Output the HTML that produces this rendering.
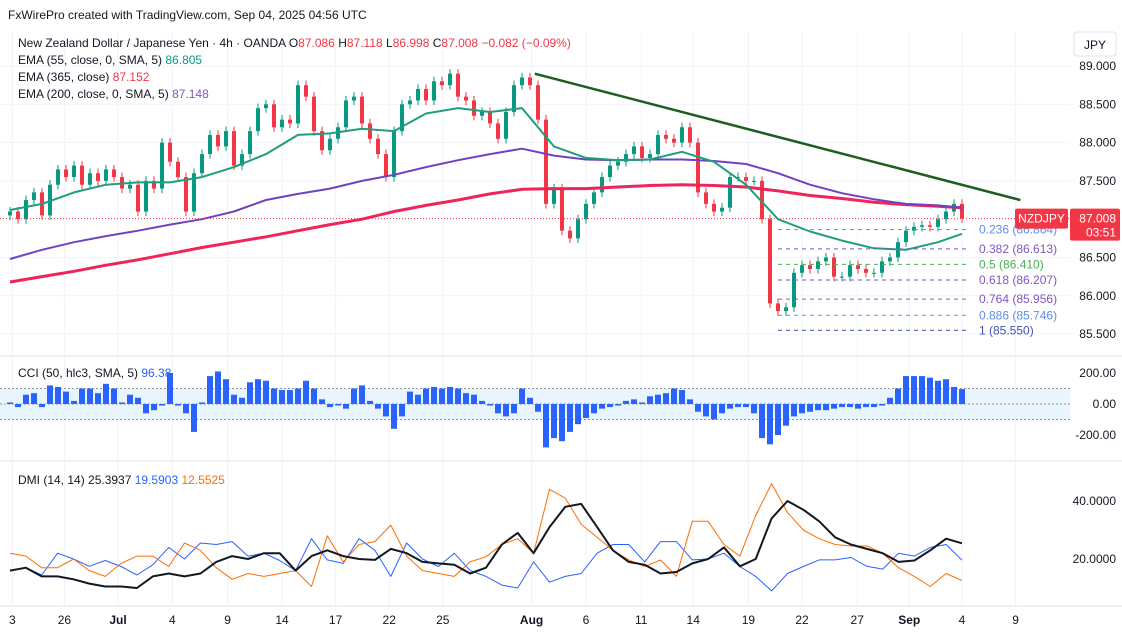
<!DOCTYPE html>
<html><head><meta charset="utf-8"><style>
html,body{margin:0;padding:0;background:#fff;}
svg{display:block;font-family:"Liberation Sans",sans-serif;}
</style></head><body>
<svg id="chart" width="1122" height="633" viewBox="0 0 1122 633">
<rect x="0" y="0" width="1122" height="633" fill="#ffffff"/>
<g id="grid"></g>
<g id="main"></g>
<g id="cci"></g>
<g id="dmi"></g>
<g id="axes"></g>
<text x="8" y="19" font-size="12" fill="#131722">FxWirePro created with TradingView.com, Sep 04, 2025 04:56 UTC</text>
<g font-size="12">
<text x="18" y="47" fill="#131722">New Zealand Dollar / Japanese Yen · 4h · OANDA  O<tspan fill="#f23645">87.086</tspan> H<tspan fill="#f23645">87.118</tspan> L<tspan fill="#f23645">86.998</tspan> C<tspan fill="#f23645">87.008</tspan> <tspan fill="#f23645">−0.082 (−0.09%)</tspan></text>
<text x="18" y="64" fill="#131722">EMA (55, close, 0, SMA, 5) <tspan fill="#089981">86.805</tspan></text>
<text x="18" y="81" fill="#131722">EMA (365, close) <tspan fill="#f23645">87.152</tspan></text>
<text x="18" y="98" fill="#131722">EMA (200, close, 0, SMA, 5) <tspan fill="#7e57c2">87.148</tspan></text>
<text x="18" y="377" fill="#131722">CCI (50, hlc3, SMA, 5) <tspan fill="#2962ff">96.38</tspan></text>
<text x="18" y="484" fill="#131722">DMI (14, 14) 25.3937 <tspan fill="#2962ff">19.5903</tspan> <tspan fill="#ff6d00">12.5525</tspan></text>
</g>
<g><rect x="1074" y="32" width="42" height="24" rx="3" fill="#fff" stroke="#e0e3eb"/><text x="1095" y="49" font-size="12" text-anchor="middle" fill="#131722">JPY</text></g>
</svg>
<script>
// ---- data ----
const closes=[87.10,87.00,87.25,87.35,87.05,87.45,87.65,87.55,87.70,87.45,87.60,87.50,87.65,87.55,87.40,87.45,87.10,87.50,87.40,88.00,87.75,87.55,87.10,87.60,87.85,88.10,87.95,88.15,87.70,87.85,88.15,88.45,88.50,88.20,88.30,88.25,88.75,88.60,88.15,87.90,88.05,88.20,88.55,88.60,88.25,88.05,87.85,87.55,88.15,88.50,88.55,88.70,88.55,88.80,88.75,88.90,88.60,88.55,88.35,88.40,88.25,88.05,88.40,88.75,88.85,88.75,88.30,87.20,87.40,86.85,86.75,87.00,87.20,87.35,87.55,87.70,87.75,87.85,87.95,87.80,87.85,88.10,88.05,88.00,88.20,88.00,87.35,87.20,87.10,87.15,87.55,87.55,87.50,87.50,87.00,85.90,85.80,85.85,86.30,86.40,86.35,86.45,86.50,86.25,86.25,86.40,86.35,86.30,86.30,86.45,86.50,86.70,86.85,86.90,86.92,86.90,87.00,87.10,87.20,87.01];
const firstOpen=87.05;
const ema55=[87.12,87.2,87.35,87.45,87.48,87.48,87.55,87.68,87.85,88.1,88.12,88.18,88.15,88.38,88.45,88.4,88.45,87.95,87.8,87.77,87.78,87.88,87.75,87.45,87.0,86.84,86.72,86.62,86.6,86.7,86.81];
const ema200=[86.48,86.6,86.7,86.78,86.85,86.93,87.0,87.1,87.25,87.33,87.4,87.5,87.58,87.68,87.77,87.85,87.92,87.83,87.78,87.77,87.78,87.78,87.76,87.72,87.6,87.45,87.34,87.26,87.2,87.18,87.15];
const ema365=[86.18,86.25,86.32,86.4,86.47,86.55,86.63,86.7,86.77,86.85,86.93,87.0,87.1,87.18,87.25,87.33,87.39,87.4,87.4,87.42,87.44,87.45,87.44,87.42,87.37,87.31,87.27,87.22,87.19,87.17,87.15];
const cciVals=[10,-20,60,70,-20,120,110,80,20,100,100,70,130,100,10,60,40,-60,-40,-10,200,-10,-60,-180,10,180,210,160,60,40,140,160,150,100,90,90,100,150,100,30,-20,-10,-30,100,120,20,-30,-80,-160,-80,80,60,100,110,100,110,100,70,60,20,-10,-60,-80,-60,100,40,-50,-280,-220,-240,-180,-130,-90,-60,-30,-20,-10,20,30,10,50,60,70,100,90,30,-50,-80,-100,-60,-30,-20,-20,-60,-220,-260,-200,-140,-80,-60,-50,-40,-40,-30,-20,-20,-30,-20,-20,-10,40,100,180,180,180,170,150,160,110,96];
const adx=[16,17,14,14,13,11.5,10.5,10.5,10,14,15,14,15,19,21,20,22,22,16,21,23,21,20,19.7,23.5,22,19,18.5,18,15,17,25,29,22,31,38,39,31,23,19,18,15,15.5,18.5,20,24,17.5,20,34,40,37,33,27.5,25,23.5,22,19,19.5,23,27,25.4];
const plusDI=[16,17,14.5,22,20,17.5,19.5,17.4,14.5,18,24,20,25.5,25,26,21,22,19.5,16,27,19.7,18.5,27,23,14,25.5,20,17.4,22,16,14,11,10,19,12,14,15,22,25,25,19,26,26,19.7,20,22,17.4,14,9,15,17.4,19.7,19.7,20.5,17.5,16.5,22,21,24,25,19.6];
const minusDI=[22,21,17,17,20,16,14,18.5,21,21,17.4,25.5,23,17,13,15,14,15,16,10.5,28,19,25,26,31.7,21,16,15,14,19,20.8,25,27,22,44,41,32,27.5,23,19.7,17.4,19.7,14,33,33,25,21,35,46,36,30,27,25,24.5,24.5,22,17,14,10.5,15,12.6];
const priceTicks=[89.0,88.5,88.0,87.5,86.5,86.0,85.5];
const cciTicks=[200,0,-200];
const dmiTicks=[40,20];
const dateLabels=["3","26","Jul","4","9","14","17","22","25","Aug","6","11","14","19","22","27","Sep","4","9"];
const dateBars=[0.3,6.8,13.5,20.3,27.2,34,40.7,47.4,54.1,65.2,72,78.9,85.4,92.3,99,105.9,112.4,119,125.7];
const fibLevels=[0.236,0.382,0.5,0.618,0.764,0.886,1];
const fibPrices=[86.864,86.613,86.410,86.207,85.956,85.746,85.550];
const fibColors=["#5b8def","#7e57c2","#4caf50","#7e57c2","#7e57c2","#5b8def","#3f51b5"];
const lastPrice=87.008;
const trendStart=[65.6,88.9], trendEnd=[126.3,87.25];
// ---- scales ----
const NS='http://www.w3.org/2000/svg';
const N=closes.length;
const xB=i=>10+i*8;
const yP=p=>66+(89-p)*76.6;
const yC=v=>404-v*0.155;
const yD=v=>559-(v-20)*2.9;
function mk(tag,attrs,parent){const e=document.createElementNS(NS,tag);for(const k in attrs)e.setAttribute(k,attrs[k]);parent.appendChild(e);return e;}
const grid=document.getElementById('grid'),main=document.getElementById('main'),cci=document.getElementById('cci'),dmi=document.getElementById('dmi'),axes=document.getElementById('axes');
dateBars.forEach((b,i)=>{const g=mk('line',{x1:xB(b),x2:xB(b),y1:30,y2:605,stroke:'#f0f3fa','stroke-width':1},grid);

});
priceTicks.forEach(p=>{const g=mk('line',{x1:0,x2:1070,y1:yP(p),y2:yP(p),stroke:'#f0f3fa'},grid);

});
[356,461,606].forEach(y=>{const s=mk('line',{x1:0,x2:1122,y1:y,y2:y,stroke:'#e0e3eb'},grid);

});
for(let i=0;i<N;i++){
 const o=i?closes[i-1]:firstOpen,c=closes[i];const up=c>=o;const col=up?'#089981':'#f23645';
 const hi=Math.max(o,c)+0.06,lo=Math.min(o,c)-0.06;const x=xB(i);
 const w=mk('line',{x1:x,x2:x,y1:yP(hi),y2:yP(lo),stroke:col,'stroke-width':1},main);
 
 
 const b=mk('rect',{x:x-2,y:yP(Math.max(o,c)),width:4,height:Math.max(1,Math.abs(yP(o)-yP(c))),fill:col},main);
 
 
}
function line(arr,step,yf,attrs,parent,name){const pts=arr.map((v,k)=>{const b=Math.min(k*step,N-1);return xB(b).toFixed(1)+','+yf(v).toFixed(1)}).join(' ');
 const l=mk('polyline',Object.assign({points:pts,fill:'none','stroke-linejoin':'round'},attrs),parent);
 
 }
line(ema365,4,yP,{stroke:'#f0245a','stroke-width':3},main,'ema365-line');
line(ema200,4,yP,{stroke:'#6f42c1','stroke-width':2},main,'ema200-line');
line(ema55,4,yP,{stroke:'#1f9e7c','stroke-width':2},main,'ema55-line');
const tl=mk('line',{x1:xB(trendStart[0]),y1:yP(trendStart[1]),x2:xB(trendEnd[0]),y2:yP(trendEnd[1]),stroke:'#1b5e20','stroke-width':2.5},main);


fibLevels.forEach((lv,i)=>{const y=yP(fibPrices[i]);
 const l=mk('line',{x1:xB(96),x2:xB(119.5),y1:y,y2:y,stroke:fibColors[i],'stroke-dasharray':'4 4'},main);
 
 
 const t=mk('text',{x:979,y:y+4,'font-size':12,fill:fibColors[i]},main);t.textContent=lv+' ('+fibPrices[i].toFixed(3)+')';
 
 });
const lp=mk('line',{x1:0,x2:1070,y1:yP(lastPrice),y2:yP(lastPrice),stroke:'#f23645','stroke-dasharray':'1 2'},main);


const band=mk('rect',{x:0,y:yC(100),width:1070,height:yC(-100)-yC(100),fill:'#e3f2fd',opacity:0.8},cci);


[100,0,-100].forEach(v=>{const l=mk('line',{x1:0,x2:1070,y1:yC(v),y2:yC(v),stroke:'#9598a1','stroke-dasharray':'2 2'},cci);

});
cciVals.forEach((v,i)=>{const y0=yC(0),y1=yC(v);const r=mk('rect',{x:xB(i)-3,y:Math.min(y0,y1),width:6,height:Math.max(1,Math.abs(y1-y0)),fill:'#2962ff'},cci);

});
const dstep=(N-1)/60;
function dline(arr,col,w,name){const pts=arr.map((v,k)=>(xB(k*dstep)).toFixed(1)+','+yD(v).toFixed(1)).join(' ');
 const l=mk('polyline',{points:pts,fill:'none',stroke:col,'stroke-width':w,'stroke-linejoin':'round'},dmi);
 
 }
dline(plusDI,'#2962ff',1,'plus-di-line');
dline(minusDI,'#ff6d00',1,'minus-di-line');
dline(adx,'#131722',2,'adx-line');
priceTicks.forEach(p=>{const t=mk('text',{x:1116,y:yP(p)+4,'font-size':12,'text-anchor':'end',fill:'#131722'},axes);t.textContent=p.toFixed(3);

});
cciTicks.forEach(v=>{const t=mk('text',{x:1116,y:yC(v)+4,'font-size':12,'text-anchor':'end',fill:'#131722'},axes);t.textContent=v.toFixed(2);

});
dmiTicks.forEach(v=>{const t=mk('text',{x:1116,y:yD(v)+4,'font-size':12,'text-anchor':'end',fill:'#131722'},axes);t.textContent=v.toFixed(4);

});
dateLabels.forEach((d,i)=>{const bold=/^[A-Z]/.test(d);const t=mk('text',{x:xB(dateBars[i]),y:624,'font-size':12,'text-anchor':'middle',fill:'#131722','font-weight':bold?'bold':'normal'},axes);t.textContent=d;

});
const yl=yP(lastPrice);
const sb=mk('rect',{x:1015,y:yl-10,width:53,height:20,fill:'#f23645',rx:2},axes);


const st=mk('text',{x:1041.5,y:yl+4,'font-size':12,'text-anchor':'middle',fill:'#fff'},axes);st.textContent='NZDJPY';


const pb=mk('rect',{x:1070,y:yl-10,width:50,height:32,fill:'#f23645',rx:2},axes);


const pt=mk('text',{x:1116,y:yl+4,'font-size':12,'text-anchor':'end',fill:'#fff'},axes);pt.textContent=lastPrice.toFixed(3);


const ct=mk('text',{x:1116,y:yl+18,'font-size':12,'text-anchor':'end',fill:'#fff'},axes);ct.textContent='03:51';


</script>
</body></html>
